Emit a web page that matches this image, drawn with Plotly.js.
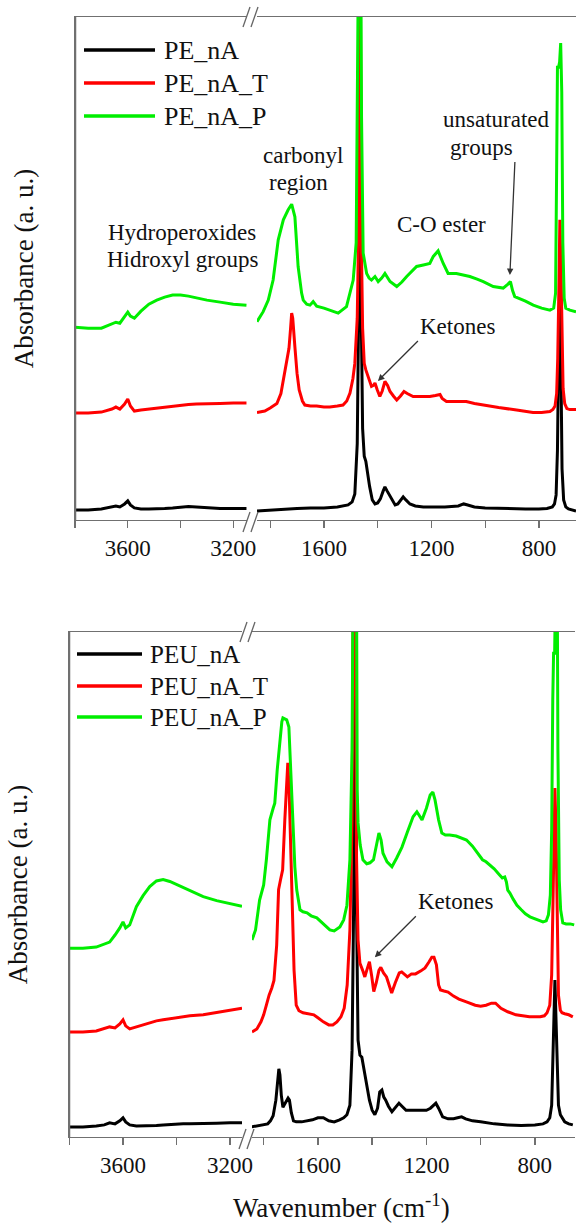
<!DOCTYPE html>
<html>
<head>
<meta charset="utf-8">
<script src="https://cdn.plot.ly/plotly-3.0.1.min.js"></script>
<style>html,body{margin:0;padding:0;background:#fff;}#chart{width:580px;height:1223px;}</style>
</head>
<body>
<div id="chart"></div>
<script>
// ---------- DATA (absorbance, arbitrary units, offset spectra) ----------
// Panel 1 (PE samples) - high wavenumber segment
const p1_wnL = [3800,3750,3700,3660,3645,3630,3612,3600,3590,3575,3550,3520,3490,3460,3430,3400,3370,3340,3300,3250,3200,3150];
const p1_PE_nA_L   = [1.8,1.8,2.0,2.4,2.6,2.4,3.0,3.6,2.8,2.2,2.0,2.0,2.0,2.1,2.2,2.4,2.5,2.4,2.2,2.1,2.1,2.1];
const p1_PE_nA_T_L = [21.1,21.1,21.3,21.9,22.3,21.9,22.9,23.9,22.5,21.5,21.7,21.9,22.1,22.3,22.5,22.7,22.8,22.9,22.9,23.0,23.1,23.1];
const p1_PE_nA_P_L = [38.2,38.0,38.0,38.8,39.2,39.0,40.2,41.2,40.4,40.0,41.4,42.8,43.6,44.2,44.6,44.6,44.4,44.0,43.6,43.2,42.8,42.6];
// Panel 1 - fingerprint segment
const p1_PE_nA_wnR = [1849,1800,1750,1700,1650,1600,1550,1510,1495,1485,1476,1470,1466,1462,1456,1450,1444,1438,1430,1420,1410,1400,1390,1380,1373,1365,1355,1345,1335,1325,1315,1305,1295,1280,1260,1230,1200,1150,1100,1080,1065,1040,1000,950,900,850,800,770,750,742,736,731,727,722,718,714,708,700,690,675,662];
const p1_PE_nA_R   = [1.6,1.8,1.9,2.1,2.2,2.2,2.4,2.8,3.4,5.0,15,45,150,45,18,12.5,11.5,9.0,6.5,3.8,3.0,3.2,4.0,5.5,6.4,5.6,4.6,3.6,2.8,3.0,3.8,4.4,3.8,3.0,2.6,2.4,2.4,2.4,2.6,3.0,2.8,2.4,2.2,2.1,2.0,2.0,2.0,2.1,2.4,3.0,4.8,13.7,32,45,30,10,3.8,2.4,2.0,1.8,1.6];
const p1_PE_nA_T_wnR = [1849,1820,1800,1775,1760,1751,1745,1739,1730,1724,1720,1716,1712,1708,1700,1692,1680,1671,1650,1627,1600,1578,1550,1529,1515,1503,1492,1485,1476,1470,1466,1462,1456,1450,1444,1436,1430,1423,1416,1410,1402,1392,1383,1373,1363,1354,1340,1329,1315,1302,1290,1268,1240,1206,1185,1175,1168,1160,1144,1110,1070,1040,1008,950,883,822,790,770,759,748,740,734,730,726,722,718,714,710,704,696,685,672,662];
const p1_PE_nA_T_R   = [21.2,21.5,22.1,23.0,25.0,27.7,29.0,31.0,34.0,38.0,41.0,40.0,36.0,34.3,29.0,25.7,23.5,22.7,22.5,22.5,22.3,22.3,22.5,22.7,23.5,25.1,28.0,31.0,40.0,60.0,150,60.0,38.0,31.0,29.7,28.5,27.5,26.4,26.6,27.1,25.8,24.4,25.5,27.4,26.6,25.4,24.4,23.7,24.5,25.4,25.0,24.4,24.4,24.4,24.6,24.8,24.8,24.0,23.4,23.4,23.4,23.0,22.7,22.2,21.7,21.2,21.2,21.3,21.4,21.8,22.5,25.0,32.0,45.0,59.6,50.0,35.0,26.0,23.0,22.0,21.8,21.8,21.8];
const p1_PE_nA_P_wnR = [1849,1826,1807,1795,1789,1770,1751,1733,1720,1708,1696,1683,1677,1664,1652,1640,1627,1600,1578,1547,1516,1503,1491,1480,1472,1466,1460,1454,1441,1432,1423,1410,1398,1385,1373,1354,1329,1310,1292,1270,1255,1230,1206,1193,1175,1156,1138,1107,1080,1057,1030,1007,970,933,915,906,898,890,850,821,790,759,745,738,734,731,727,723,719,715,711,706,700,685,662];
const p1_PE_nA_P_R   = [39.3,41.3,43.6,46.3,47.6,55.6,59.6,61.6,62.7,60.2,50.3,45.0,43.6,42.8,42.6,43.3,42.4,42.0,41.6,41.0,42.3,45.0,47.6,55.0,80.0,150,80.0,53.0,48.9,48.0,47.6,48.3,47.3,48.0,48.9,47.3,46.3,47.2,48.3,49.5,50.3,50.6,50.9,52.3,53.4,50.9,48.9,48.9,48.6,48.3,47.8,47.3,46.3,46.0,46.8,47.3,45.5,44.3,43.4,42.6,42.0,41.6,42.0,45.0,70.0,90.0,90.0,91.0,94.8,85.0,55.0,44.0,42.0,41.6,41.3];
// Panel 2 (PEU samples) - high wavenumber segment
const p2_wnL = [3800,3750,3700,3670,3650,3630,3612,3600,3590,3575,3550,3525,3500,3475,3450,3425,3400,3375,3350,3300,3250,3200,3155];
const p2_PEU_nA_L   = [2.0,2.0,2.2,2.4,2.8,2.6,3.2,3.8,3.0,2.4,2.2,2.2,2.2,2.3,2.4,2.5,2.6,2.6,2.6,2.6,2.7,2.8,2.8];
const p2_PEU_nA_T_L = [20.8,20.8,21.0,21.4,21.8,21.6,22.4,23.2,22.0,21.4,21.8,22.2,22.6,23.0,23.2,23.4,23.6,23.8,24.0,24.2,24.6,25.0,25.5];
const p2_PEU_nA_P_L = [37.4,37.4,37.6,38.2,38.6,40.0,41.4,42.6,41.4,42.0,45.6,47.8,49.6,50.7,51.0,50.6,50.0,49.5,48.8,47.6,46.8,46.2,45.7];
// Panel 2 - fingerprint segment
const p2_PEU_nA_wnR = [1845,1820,1800,1785,1775,1765,1755,1748,1744,1740,1735,1729,1720,1710,1705,1698,1690,1680,1660,1640,1620,1600,1580,1560,1540,1520,1505,1493,1482,1474,1468,1463,1458,1452,1445,1438,1430,1420,1410,1400,1390,1380,1372,1364,1357,1350,1340,1327,1315,1301,1290,1275,1250,1225,1200,1185,1175,1165,1155,1140,1120,1100,1085,1070,1055,1030,1000,950,900,850,800,770,755,745,738,733,729,726,722,718,713,706,700,690,675,660];
const p2_PEU_nA_R   = [2.0,2.2,2.4,2.6,3.2,4.2,7.3,11.3,13.5,12.3,8.3,5.9,6.9,7.7,7.3,4.8,3.2,3.0,3.0,3.2,3.4,3.8,3.8,3.2,3.0,3.4,3.8,4.4,6.3,17.2,46.9,150,46.9,19.2,16.2,15.8,13.3,9.9,7.3,5.3,4.4,5.7,8.9,9.3,7.9,7.3,6.1,5.0,5.7,6.7,6.1,5.3,5.3,5.3,5.3,5.7,6.3,6.7,5.7,4.0,3.6,3.6,3.8,4.0,3.6,3.2,3.0,2.6,2.4,2.3,2.4,2.6,3.0,3.8,6.3,15.2,23.2,31.1,23.2,15.2,6.3,4.4,3.8,3.0,2.6,2.4];
const p2_PEU_nA_T_wnR = [1843,1825,1810,1800,1790,1780,1770,1762,1752,1745,1738,1730,1722,1715,1711,1706,1700,1694,1688,1680,1670,1655,1635,1615,1600,1580,1560,1545,1530,1515,1503,1492,1482,1474,1466,1458,1452,1445,1435,1427,1420,1410,1402,1394,1385,1375,1368,1358,1347,1338,1328,1315,1300,1291,1280,1270,1255,1240,1220,1205,1190,1180,1172,1163,1155,1148,1135,1120,1100,1080,1050,1020,1000,980,960,945,925,900,870,850,820,800,780,765,755,745,738,733,729,726,722,718,713,706,700,690,675,660];
const p2_PEU_nA_T_R   = [20.8,21.4,22.8,24.2,26.1,28.1,29.5,31.0,38.0,49.0,50.9,52.9,62.8,71.7,74.1,68.7,56.8,43.0,33.1,26.1,25.0,24.6,24.4,24.2,23.6,22.8,22.2,22.2,22.8,23.8,25.5,30.1,41.0,62.8,150,56.8,39.0,34.4,33.0,31.7,33.0,34.7,32.0,28.8,30.5,33.0,33.6,32.5,31.7,30.0,28.5,30.5,32.5,32.7,32.1,31.7,32.3,32.3,32.9,33.5,34.7,35.6,35.6,34.1,30.1,29.1,28.9,28.7,27.9,27.3,26.7,26.1,25.9,26.1,26.5,26.5,25.5,24.8,24.2,24.0,23.8,23.8,23.8,24.0,24.6,26.1,32.1,46.9,62.8,69.1,60.8,41.0,28.1,25.1,24.6,24.4,24.2,23.8];
const p2_PEU_nA_P_wnR = [1843,1830,1815,1800,1790,1777,1765,1759,1750,1740,1733,1729,1722,1715,1707,1702,1697,1690,1685,1678,1666,1655,1640,1625,1604,1580,1556,1540,1519,1505,1493,1482,1474,1466,1460,1455,1452,1444,1434,1420,1408,1395,1385,1375,1367,1360,1345,1327,1310,1290,1270,1249,1235,1216,1200,1186,1176,1168,1155,1143,1130,1114,1090,1070,1052,1030,1010,993,980,966,950,930,920,911,905,900,892,880,866,850,835,818,800,785,770,758,750,743,738,734,731,727,723,719,715,710,705,697,685,670,655];
const p2_PEU_nA_P_R   = [39.0,41.0,46.9,49.9,54.9,62.8,65.1,66.1,72.7,78.6,82.2,83.0,82.8,82.6,81.2,75.6,68.7,59.8,53.5,48.9,45.0,44.6,44.4,43.8,43.4,42.2,41.0,40.8,41.6,43.0,45.9,54.9,76.6,150,150,68.7,62.2,57.8,54.9,54.1,54.3,54.9,57.8,60.2,58.8,56.2,54.5,53.5,55.2,57.4,60.4,63.4,64.4,62.8,65.1,67.7,68.3,66.7,62.8,60.2,59.8,59.8,59.6,59.2,58.8,57.6,56.2,54.9,54.5,53.9,53.1,51.9,51.3,51.5,50.5,48.9,48.3,47.1,45.9,45.0,44.2,43.6,43.2,42.8,42.6,42.8,44.0,47.9,60.8,86.5,95.8,95.8,130,130,76.6,50.9,45.0,42.4,42.2,42.2,42.0];

// Series names and tick labels (major ticks labelled, minor ticks unlabelled)
const seriesTop = ['PE_nA', 'PE_nA_T', 'PE_nA_P'];
const seriesBot = ['PEU_nA', 'PEU_nA_T', 'PEU_nA_P'];
const ticksL = [3800, 3600, 3400, 3200];
const tickTextL = ['', '3600', '', '3200'];
const ticksR = [1800, 1600, 1400, 1200, 1000, 800];
const tickTextR = ['', '1600', '', '1200', '', '800'];

// ---------- STYLE ----------
const FONT = 'Liberation Serif';
const FRAME = '#707070';
const COLORS = ['#000000', '#ff0000', '#00ee00'];

const data = [];
function addTrace(x, y, xa, ya, color, name) {
  data.push({x:x, y:y, xaxis:xa, yaxis:ya, type:'scatter', mode:'lines', name:name, line:{color:color, width:3}});
}
addTrace(p1_wnL, p1_PE_nA_L, 'x', 'y', COLORS[0], seriesTop[0]);
addTrace(p1_PE_nA_wnR, p1_PE_nA_R, 'x2', 'y', COLORS[0], seriesTop[0]);
addTrace(p1_wnL, p1_PE_nA_T_L, 'x', 'y', COLORS[1], seriesTop[1]);
addTrace(p1_PE_nA_T_wnR, p1_PE_nA_T_R, 'x2', 'y', COLORS[1], seriesTop[1]);
addTrace(p1_wnL, p1_PE_nA_P_L, 'x', 'y', COLORS[2], seriesTop[2]);
addTrace(p1_PE_nA_P_wnR, p1_PE_nA_P_R, 'x2', 'y', COLORS[2], seriesTop[2]);
addTrace(p2_wnL, p2_PEU_nA_L, 'x3', 'y2', COLORS[0], seriesBot[0]);
addTrace(p2_PEU_nA_wnR, p2_PEU_nA_R, 'x4', 'y2', COLORS[0], seriesBot[0]);
addTrace(p2_wnL, p2_PEU_nA_T_L, 'x3', 'y2', COLORS[1], seriesBot[1]);
addTrace(p2_PEU_nA_T_wnR, p2_PEU_nA_T_R, 'x4', 'y2', COLORS[1], seriesBot[1]);
addTrace(p2_wnL, p2_PEU_nA_P_L, 'x3', 'y2', COLORS[2], seriesBot[2]);
addTrace(p2_PEU_nA_P_wnR, p2_PEU_nA_P_R, 'x4', 'y2', COLORS[2], seriesBot[2]);

// pixel helpers for layout geometry (margins l=69, r=4, t=17, b=86)
const PW = 507, PH = 1120;
const px = v => (v - 69) / PW;
const py = v => (1137 - v) / PH;

function xax(dom, range, anchor, vals, texts) {
  return {domain:dom, range:range, anchor:anchor, showline:true, mirror:true, linecolor:FRAME, linewidth:1.3,
    showgrid:false, zeroline:false, ticks:'outside', ticklen:7, tickwidth:1.3, tickcolor:FRAME,
    tickmode:'array', tickvals:vals, ticktext:texts,
    tickfont:{family:FONT, size:23, color:'#111111'}};
}
function yax(dom, range, anchor) {
  return {domain:dom, range:range, anchor:anchor, showline:true, linecolor:FRAME, linewidth:1.5,
    showgrid:false, zeroline:false, ticks:'', showticklabels:false,
    title:{text:'Absorbance (a. u.)', font:{family:FONT, size:27, color:'#111111'}, standoff:32}};
}
function yright(over, anchor, range) {
  return {overlaying:over, anchor:anchor, side:'right', range:range, showline:true, linecolor:FRAME, linewidth:1.3,
    showgrid:false, zeroline:false, ticks:'', showticklabels:false};
}

const pline = (x0, y0, x1, y1, color, w) => ({type:'line', xref:'paper', yref:'paper',
  x0:px(x0), y0:py(y0), x1:px(x1), y1:py(y1), line:{color:color, width:w}});
function slash(cx, cy) {
  return [pline(cx-8, cy+10, cx-1, cy-10, '#666', 1.3), pline(cx, cy+10, cx+7, cy-10, '#666', 1.3)];
}
const txt = (text, x, y, xref, yref, size, xanchor) => ({text:text, x:x, y:y, xref:xref, yref:yref, showarrow:false,
  font:{family:FONT, size:size || 23, color:'#111111'}, xanchor:xanchor || 'center', yanchor:'middle'});
const arrowTxt = (text, x, y, xref, yref, ax, ay, xanchor, yanchor) => ({text:text, x:x, y:y, xref:xref, yref:yref,
  ax:ax, ay:ay, xanchor:xanchor, yanchor:yanchor, showarrow:true, arrowhead:2, arrowsize:1, arrowwidth:1.3,
  arrowcolor:'#333', font:{family:FONT, size:23, color:'#111111'}});

// hand-built legends (long line samples as in the original figure)
const legTop = {x0:84, x1:155, tx:162, rows:[50, 83, 116], size:26};
const legBot = {x0:77, x1:142, tx:148, rows:[654, 686, 717], size:25};
const legShapes = [], legTexts = [];
[[legTop, seriesTop], [legBot, seriesBot]].forEach(function(pair) {
  const L = pair[0], names = pair[1];
  names.forEach(function(n, i) {
    legShapes.push(pline(L.x0, L.rows[i], L.x1, L.rows[i], COLORS[i], 3.5));
    legTexts.push(txt(n, px(L.tx), py(L.rows[i]), 'paper', 'paper', L.size, 'left'));
  });
});

const layout = {
  width:580, height:1223, margin:{l:69, r:4, t:17, b:86},
  font:{family:FONT, size:23, color:'#111111'}, showlegend:false,
  xaxis: xax([px(75), px(247)], [3800, 3148], 'y', ticksL, tickTextL),
  xaxis2: xax([px(257), px(576)], [1849, 662], 'y', ticksR, tickTextR),
  xaxis3: xax([px(69), px(242)], [3802, 3155], 'y2', ticksL, tickTextL),
  xaxis4: xax([px(252), px(575)], [1843, 652], 'y2', ticksR, tickTextR),
  yaxis: yax([py(520), 1], [-0.2, 100], 'x'),
  yaxis2: yax([0, py(632)], [0, 100], 'x3'),
  yaxis3: yright('y', 'x2', [-0.2, 100]),
  yaxis4: yright('y2', 'x4', [0, 100]),
  shapes: [
    pline(75.5, 17, 75.5, 520, FRAME, 1.5),
    pline(69.5, 632, 69.5, 1137, FRAME, 1.5)
  ].concat(slash(251, 17), slash(251, 522), slash(248, 632), slash(247, 1139), legShapes),
  annotations: legTexts.concat([
    txt('Hydroperoxides', 3396, 57.0, 'x', 'y'),
    txt('Hidroxyl groups', 3392, 51.6, 'x', 'y'),
    txt('carbonyl', 1678, 72.5, 'x2', 'y'),
    txt('region', 1693, 67.1, 'x2', 'y'),
    txt('C-O ester', 1161, 58.6, 'x2', 'y'),
    txt('unsaturated', 956, 79.5, 'x2', 'y'),
    arrowTxt('groups', 908, 48.6, 'x2', 'y', 5, -113, 'right', 'bottom'),
    arrowTxt('Ketones', 1399, 27.5, 'x2', 'y', 40, -40, 'left', 'bottom'),
    arrowTxt('Ketones', 1390, 35.6, 'x4', 'y2', 41, -41, 'left', 'bottom'),
    txt('Wavenumber (cm<sup>-1</sup>)', px(341), py(1206), 'paper', 'paper', 27)
  ])
};

Plotly.newPlot('chart', data, layout, {staticPlot:true});
</script>
</body>
</html>
